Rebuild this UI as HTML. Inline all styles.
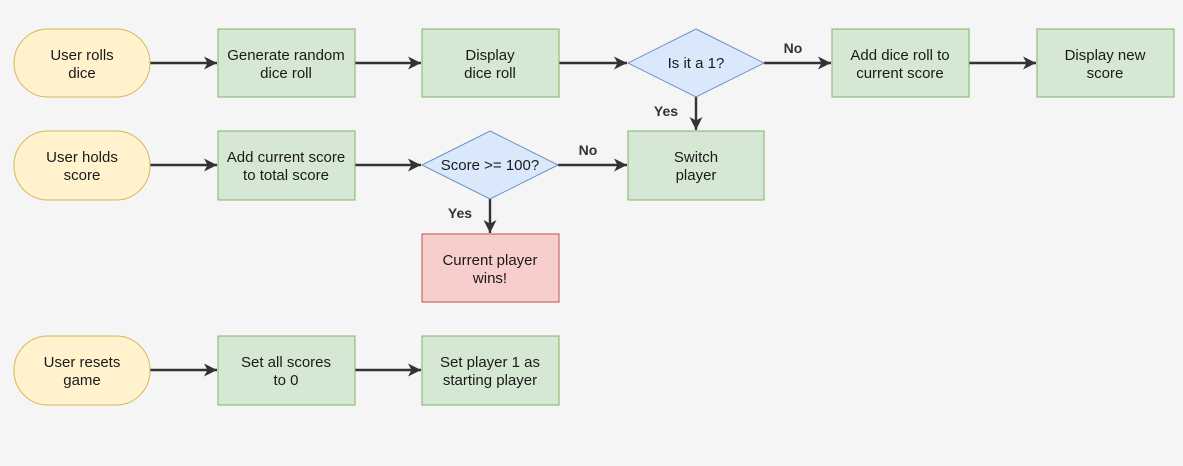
<!DOCTYPE html>
<html><head><meta charset="utf-8"><style>
html,body{margin:0;padding:0;background:#f5f5f5;}
svg{display:block;font-family:"Liberation Sans",Arial,sans-serif;}
text{font-size:15px;fill:#1a1a1a;text-anchor:middle;}
.lbl{font-weight:bold;fill:#333;font-size:14px;}
.e{stroke:#333;stroke-width:2.4;fill:none;}
</style></head><body>
<svg width="1183" height="466" viewBox="0 0 1183 466">
<rect width="1183" height="466" fill="#f5f5f5"/>
<defs><marker id="ah" markerWidth="14" markerHeight="14" refX="13" refY="6.5" orient="auto" markerUnits="userSpaceOnUse"><path d="M0,0 L13,6.5 L0,13 L3.5,6.5 Z" fill="#333"/></marker></defs>

<g>
<line class="e" x1="150" y1="63" x2="217" y2="63" marker-end="url(#ah)"/>
<line class="e" x1="355" y1="63" x2="421" y2="63" marker-end="url(#ah)"/>
<line class="e" x1="559" y1="63" x2="627" y2="63" marker-end="url(#ah)"/>
<line class="e" x1="764" y1="63" x2="831" y2="63" marker-end="url(#ah)"/>
<line class="e" x1="969" y1="63" x2="1036" y2="63" marker-end="url(#ah)"/>
<line class="e" x1="696" y1="97" x2="696" y2="130" marker-end="url(#ah)"/>
<line class="e" x1="150" y1="165" x2="217" y2="165" marker-end="url(#ah)"/>
<line class="e" x1="355" y1="165" x2="421" y2="165" marker-end="url(#ah)"/>
<line class="e" x1="558" y1="165" x2="627" y2="165" marker-end="url(#ah)"/>
<line class="e" x1="490" y1="199" x2="490" y2="233" marker-end="url(#ah)"/>
<line class="e" x1="150" y1="370" x2="217" y2="370" marker-end="url(#ah)"/>
<line class="e" x1="355" y1="370" x2="421" y2="370" marker-end="url(#ah)"/>
</g>
<text class="lbl" x="793" y="53">No</text>
<text class="lbl" x="666" y="116">Yes</text>
<text class="lbl" x="588" y="155">No</text>
<text class="lbl" x="460" y="218">Yes</text>

<g><rect x="14" y="29" width="136" height="68" rx="34" fill="#fff2cc" stroke="#d6b656"/><text x="82" y="60">User rolls</text><text x="82" y="78">dice</text></g>
<g><rect x="218" y="29" width="137" height="68" fill="#d5e8d4" stroke="#82b366"/><text x="286" y="60">Generate random</text><text x="286" y="78">dice roll</text></g>
<g><rect x="422" y="29" width="137" height="68" fill="#d5e8d4" stroke="#82b366"/><text x="490" y="60">Display</text><text x="490" y="78">dice roll</text></g>
<g><polygon points="696,29 764,63 696,97 628,63" fill="#dae8fc" stroke="#6c8ebf"/><text x="696" y="68">Is it a 1?</text></g>
<g><rect x="832" y="29" width="137" height="68" fill="#d5e8d4" stroke="#82b366"/><text x="900" y="60">Add dice roll to</text><text x="900" y="78">current score</text></g>
<g><rect x="1037" y="29" width="137" height="68" fill="#d5e8d4" stroke="#82b366"/><text x="1105" y="60">Display new</text><text x="1105" y="78">score</text></g>

<g><rect x="14" y="131" width="136" height="69" rx="34" fill="#fff2cc" stroke="#d6b656"/><text x="82" y="162">User holds</text><text x="82" y="180">score</text></g>
<g><rect x="218" y="131" width="137" height="69" fill="#d5e8d4" stroke="#82b366"/><text x="286" y="162">Add current score</text><text x="286" y="180">to total score</text></g>
<g><polygon points="490,131 558,165 490,199 422,165" fill="#dae8fc" stroke="#6c8ebf"/><text x="490" y="170">Score &gt;= 100?</text></g>
<g><rect x="628" y="131" width="136" height="69" fill="#d5e8d4" stroke="#82b366"/><text x="696" y="162">Switch</text><text x="696" y="180">player</text></g>
<g><rect x="422" y="234" width="137" height="68" fill="#f8cecc" stroke="#b85450"/><text x="490" y="265">Current player</text><text x="490" y="283">wins!</text></g>

<g><rect x="14" y="336" width="136" height="69" rx="34" fill="#fff2cc" stroke="#d6b656"/><text x="82" y="367">User resets</text><text x="82" y="385">game</text></g>
<g><rect x="218" y="336" width="137" height="69" fill="#d5e8d4" stroke="#82b366"/><text x="286" y="367">Set all scores</text><text x="286" y="385">to 0</text></g>
<g><rect x="422" y="336" width="137" height="69" fill="#d5e8d4" stroke="#82b366"/><text x="490" y="367">Set player 1 as</text><text x="490" y="385">starting player</text></g>
</svg>
</body></html>
